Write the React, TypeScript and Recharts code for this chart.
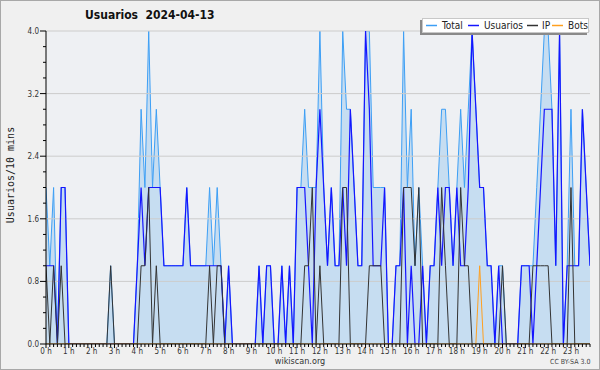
import React from 'react';
import { ComposedChart, Area, Line, XAxis, YAxis, ReferenceLine, ReferenceArea } from 'recharts';

// 10-minute slots, 0:00 .. 23:50
const total = [
  2,1,2,0,2,2,
  0,0,0,0,0,0,0,0,0,0,0,
  1,
  0,0,0,0,0,0,
  1,3,2,4,2,3,2,
  1,1,1,1,1,1,
  2,
  1,1,1,1,1,
  2,1,2,1,0,1,
  0,0,0,0,0,0,0,
  1,0,1,1,0,0,1,0,1,0,
  2,2,3,2,2,2,4,2,
  1,2,1,1,4,3,3,2,1,1,
  4,4,2,2,2,2,0,0,1,1,
  4,2,3,1,2,1,0,1,1,2,
  3,3,2,1,2,3,2,3,4,3,
  2,2,1,1,0,1,1,0,0,0,
  0,1,1,1,1,2,3,4,4,3,
  1,4,0,1,3,1,1,3,2,1,
];

const usuarios = [
  1,1,1,0,2,2,
  0,0,0,0,0,0,0,0,0,0,0,0,0,0,0,0,0,0,
  1,2,1,2,2,2,2,
  1,1,1,1,1,1,
  2,
  1,1,1,1,1,1,1,1,1,
  0,1,
  0,0,0,0,0,0,0,
  1,0,1,1,0,0,1,0,1,0,
  2,2,2,1,0,2,3,2,
  1,2,1,1,2,1,3,2,1,1,
  4,3,1,1,1,2,0,0,1,1,
  2,0,1,0,0,1,0,1,1,2,
  1,2,2,1,2,1,1,2,4,3,
  2,2,1,1,0,1,0,0,0,0,
  0,1,1,1,0,1,2,3,3,3,
  1,4,0,1,1,1,1,3,2,1,
];

const ip = [
  1,0,1,0,1,0,
  0,0,0,0,0,0,0,0,0,0,0,
  1,
  0,0,0,0,0,0,0,
  1,1,2,0,1,0,
  0,0,0,0,0,0,0,0,0,0,0,0,
  1,0,1,1,
  0,0,0,0,0,0,0,0,0,0,0,0,0,0,0,0,0,0,0,0,0,
  1,1,2,0,1,0,
  0,0,0,0,
  2,2,
  0,0,0,0,0,
  1,1,1,1,
  0,0,0,0,0,
  2,2,2,1,2,
  0,0,0,0,0,
  2,1,
  0,0,0,
  2,1,1,
  0,0,0,0,0,0,0,0,
  1,
  0,0,0,0,0,0,0,
  1,1,1,1,1,
  0,0,0,0,0,
  2,
  0,0,0,0,0,
];

const bots = [
  0,0,0,0,0,0,0,0,0,0,0,0,0,0,0,0,0,0,0,0,0,0,0,0,
  0,0,0,0,0,0,0,0,0,0,0,0,0,0,0,0,0,0,0,0,0,0,0,0,
  0,0,0,0,0,0,0,0,0,0,0,0,0,0,0,0,0,0,0,0,0,0,0,0,
  0,0,0,0,0,0,0,0,0,0,0,0,0,0,0,0,0,0,0,0,0,0,0,0,
  0,0,0,0,0,0,0,0,0,0,0,0,0,0,0,0,0,0,1,0,0,0,0,0,
  0,0,0,0,0,0,0,0,0,0,0,0,0,0,0,0,0,0,0,0,0,0,0,0,
];

const hourLabels = [
  '0 h','1 h','2 h','3 h','4 h','5 h','6 h','7 h','8 h','9 h','10 h','11 h',
  '12 h','13 h','14 h','15 h','16 h','17 h','18 h','19 h','20 h','21 h','22 h','23 h',
];

const yTicks = [0,0.2,0.4,0.6,0.8,1,1.2,1.4,1.6,1.8,2,2.2,2.4,2.6,2.8,3,3.2,3.4,3.6,3.8,4];
const yMajor = ['0.0','0.8','1.6','2.4','3.2','4.0'];
const gridValues = [0.8,1.6,2.4,3.2,4];

const legendItems = [
  { name: 'Total', color: '#3d9ff5', lineX: 3, textX: 19 },
  { name: 'Usuarios', color: '#1515ff', lineX: 45, textX: 61 },
  { name: 'IP', color: '#333333', lineX: 104, textX: 119 },
  { name: 'Bots', color: '#ffa020', lineX: 129, textX: 145 },
];

const data = usuarios.map((u, i) => ({
  i,
  total: total[i],
  usuarios: u,
  ip: ip[i],
  bots: bots[i],
}));

const xTicks = data.map((d) => d.i);

const FONT = '"DejaVu Sans Condensed", "DejaVu Sans", sans-serif';

const XTick = (props: any) => {
  const { x, y, payload } = props;
  const v = payload.value as number;
  const isHour = v % 6 === 0;
  return (
    <g>
      <line x1={x} x2={x} y1={y} y2={y + (isHour ? 4 : 3)} stroke="#000" strokeWidth={1} />
      {isHour && (
        <text x={x} y={y + 10} textAnchor="middle" fontSize={8} fontFamily={FONT} fill="#333">
          {hourLabels[v / 6]}
        </text>
      )}
    </g>
  );
};

const YTick = (props: any) => {
  const { x, y, index } = props;
  const idx = index as number;
  const isMajor = idx % 4 === 0;
  return (
    <g>
      <line x1={x - (isMajor ? 6 : 3)} x2={x} y1={y} y2={y} stroke="#000" strokeWidth={1} />
      {isMajor && (
        <text x={x - 7} y={y + 3} textAnchor="end" fontSize={8} fontFamily={FONT} fill="#333">
          {yMajor[idx / 4]}
        </text>
      )}
    </g>
  );
};

export default function App() {
  return (
    <div style={{ position: 'absolute', left: 0, top: 0, width: 600, height: 370, background: '#f0f0f0', overflow: 'hidden' }}>
      <div style={{ position: 'absolute', left: 85, top: 8, fontFamily: FONT, fontWeight: 'bold', fontSize: 12, color: '#111', whiteSpace: 'pre' }}>
        {'Usuarios  2024-04-13'}
      </div>
      <div style={{ position: 'absolute', left: 0, top: 175, width: 0, height: 0 }}>
        <div style={{ position: 'absolute', left: 10, top: 0, transform: 'translate(-50%, -50%) rotate(-90deg)', fontFamily: '"DejaVu Sans Mono", monospace', fontSize: 10, color: '#222', whiteSpace: 'nowrap' }}>
          Usuarios/10 mins
        </div>
      </div>
      <div style={{ position: 'absolute', left: 0, top: 0 }}>
        <ComposedChart width={600} height={370} data={data} margin={{ top: 31, right: 10, left: 0, bottom: 0 }}>
          <XAxis
            dataKey="i"
            type="number"
            domain={[0, 143]}
            ticks={xTicks}
            interval={0}
            tick={<XTick />}
            tickLine={false}
            tickSize={0}
            tickMargin={0}
            height={26}
            axisLine={{ stroke: '#000' }}
            allowDataOverflow
          />
          <YAxis
            type="number"
            domain={[0, 4]}
            ticks={yTicks}
            interval={0}
            tick={<YTick />}
            tickLine={false}
            tickSize={0}
            tickMargin={0}
            width={46}
            axisLine={{ stroke: '#000' }}
            allowDataOverflow
          />
          <ReferenceArea x1={0} x2={143} y1={0} y2={4} fill="#eef0f3" fillOpacity={1} stroke="none" />
          {gridValues.map((g) => (
            <ReferenceLine key={g} y={g} stroke="#cccccc" strokeWidth={1} />
          ))}
          <Area
            type="linear"
            dataKey="total"
            stroke="#3d9ff5"
            strokeWidth={1}
            fill="#c6ddf1"
            fillOpacity={1}
            dot={false}
            activeDot={false}
            isAnimationActive={false}
          />
          <Line type="linear" dataKey="usuarios" stroke="#1515ff" strokeWidth={1.2} dot={false} activeDot={false} isAnimationActive={false} />
          <Line type="linear" dataKey="ip" stroke="#333333" strokeWidth={1} dot={false} activeDot={false} isAnimationActive={false} />
          <Line type="linear" dataKey="bots" stroke="#ffa020" strokeWidth={1} dot={false} activeDot={false} isAnimationActive={false} />
        </ComposedChart>
      </div>
      <div
        style={{
          position: 'absolute', left: 422, top: 18, width: 167, height: 15, boxSizing: 'border-box',
          background: '#ffffff', border: '1px solid #c8c8c8', boxShadow: '-2px 2px 0 #8a8a8a',
          fontFamily: FONT, fontSize: 10, color: '#222',
        }}
      >
        <svg width={165} height={13} style={{ position: 'absolute', left: 0, top: 0 }}>
          {legendItems.map((it) => (
            <line key={it.name} x1={it.lineX} x2={it.lineX + 11} y1={6.5} y2={6.5} stroke={it.color} strokeWidth={1.5} />
          ))}
        </svg>
        {legendItems.map((it) => (
          <div key={it.name} style={{ position: 'absolute', left: it.textX, top: 0, lineHeight: '13px', whiteSpace: 'nowrap' }}>{it.name}</div>
        ))}
      </div>
      <div style={{ position: 'absolute', left: 0, width: 600, top: 356, textAlign: 'center', fontFamily: FONT, fontSize: 9, color: '#333' }}>
        wikiscan.org
      </div>
      <div style={{ position: 'absolute', left: 550, top: 358, fontFamily: FONT, fontSize: 7, color: '#444', whiteSpace: 'nowrap' }}>
        CC BY-SA 3.0
      </div>
      <div style={{ position: 'absolute', left: 0, top: 0, width: 600, height: 370, boxSizing: 'border-box', border: '1px solid #a8a8a8', pointerEvents: 'none' }} />
    </div>
  );
}
